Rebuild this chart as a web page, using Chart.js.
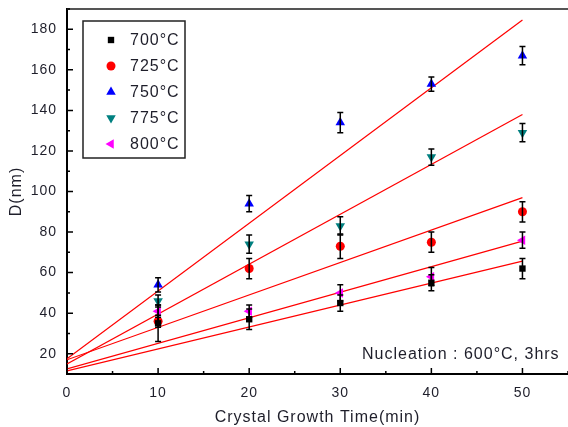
<!DOCTYPE html>
<html>
<head>
<meta charset="utf-8">
<script src="https://cdn.jsdelivr.net/npm/chart.js@4.4.0/dist/chart.umd.min.js"></script>
<style>
  body { margin: 0; background: #fff; }
  #wrap { width: 568px; height: 427px; position: relative; }
</style>
</head>
<body>
<div id="wrap"><canvas id="grafico"></canvas></div>
<script>
// dados
const tempos = [10, 20, 30, 40, 50];
const series = ["700°C", "725°C", "750°C", "775°C", "800°C"];

const d700 = [35, 37, 45, 55, 62];
const d725 = [36, 62, 73, 75, 90];
const d750 = [54, 94, 134, 153, 167];
const d775 = [46, 74, 83, 117, 129];
const d800 = [41, 41, 50, 58, 76];

const err700 = [9, 5, 4, 4, 5];
const err725 = [3, 5, 6, 5, 5];
const err750 = [3.5, 4, 5, 3.5, 4.5];
const err775 = [3, 4.5, 4.5, 4, 4.5];
const err800 = [3, 3, 4, 4.5, 4];

// retas de ajuste: valor em t=0 e t=50
const fitX = [0, 50];
const fitInicio = [11.5, 17, 17.5, 15, 12.5];
const fitFim = [65.7, 97, 184.6, 138, 75.5];

const xTicks = [0, 10, 20, 30, 40, 50];
const yTicks = [20, 40, 60, 80, 100, 120, 140, 160, 180];

const valores = [d700, d725, d750, d775, d800];
const erros = [err700, err725, err750, err775, err800];
const cores = ["#000000", "#ff0000", "#0000ff", "#008080", "#ff00ff"];
const estilos = ["rect", "circle", "triangle", "triangle", "triangle"];
const rotacoes = [0, 0, 0, 180, 270];
const raios = [4.5, 4.5, 5.5, 5.5, 5.5];

const FONTE = "'Liberation Sans', Arial, sans-serif";
const corTexto = "#1e1e2a";

const datasets = [];
series.forEach((nome, i) => {
    datasets.push({
        label: nome,
        data: tempos.map((t, j) => ({ x: t, y: valores[i][j] })),
        showLine: false,
        pointStyle: estilos[i],
        rotation: rotacoes[i],
        pointRadius: raios[i],
        pointBackgroundColor: cores[i],
        pointBorderColor: cores[i],
        pointBorderWidth: 0,
        order: 1
    });
});
series.forEach((nome, i) => {
    datasets.push({
        label: "fit " + nome,
        type: "line",
        data: fitX.map((t, j) => ({ x: t, y: j === 0 ? fitInicio[i] : fitFim[i] })),
        borderColor: "#ff0000",
        borderWidth: 1.2,
        pointRadius: 0,
        fill: false,
        order: 2
    });
});

const espacamento = {
    id: "espacamento",
    beforeDraw(chart) { chart.ctx.letterSpacing = "1px"; }
};

// barras de erro
const barrasErro = {
    id: "barrasErro",
    afterDatasetsDraw(chart) {
        const ctx = chart.ctx;
        const xs = chart.scales.x, ys = chart.scales.y;
        ctx.save();
        ctx.strokeStyle = "#000";
        ctx.lineWidth = 1.5;
        valores.forEach((serie, i) => {
            serie.forEach((v, j) => {
                const px = xs.getPixelForValue(tempos[j]);
                const top = ys.getPixelForValue(v + erros[i][j]);
                const bot = ys.getPixelForValue(v - erros[i][j]);
                ctx.beginPath();
                ctx.moveTo(px, top); ctx.lineTo(px, bot);
                ctx.moveTo(px - 3, top); ctx.lineTo(px + 3, top);
                ctx.moveTo(px - 3, bot); ctx.lineTo(px + 3, bot);
                ctx.stroke();
            });
        });
        ctx.restore();
    }
};

// ticks para dentro, moldura, legenda e anotacao
const moldura = {
    id: "moldura",
    afterDraw(chart) {
        const ctx = chart.ctx;
        const a = chart.chartArea;
        const xs = chart.scales.x, ys = chart.scales.y;
        ctx.save();
        ctx.strokeStyle = "#555";
        ctx.lineWidth = 2;
        ctx.beginPath();
        ctx.moveTo(a.left, a.top); ctx.lineTo(a.right, a.top);
        ctx.stroke();

        ctx.strokeStyle = "#000";
        ctx.lineWidth = 1.5;
        ctx.beginPath();
        xTicks.forEach(t => {
            const px = xs.getPixelForValue(t);
            ctx.moveTo(px, a.bottom); ctx.lineTo(px, a.bottom - 6);
            const m = xs.getPixelForValue(t + 5);
            ctx.moveTo(m, a.bottom); ctx.lineTo(m, a.bottom - 3);
        });
        yTicks.forEach(t => {
            const py = ys.getPixelForValue(t);
            ctx.moveTo(a.left, py); ctx.lineTo(a.left + 6, py);
            const m = ys.getPixelForValue(t + 10);
            ctx.moveTo(a.left, m); ctx.lineTo(a.left + 3, m);
        });
        ctx.stroke();

        // legenda
        ctx.fillStyle = "#fff";
        ctx.strokeStyle = "#222";
        ctx.lineWidth = 1.5;
        ctx.fillRect(83, 21, 102, 137);
        ctx.strokeRect(83, 21, 102, 137);
        ctx.font = "16px " + FONTE;
        ctx.textBaseline = "middle";
        series.forEach((nome, i) => {
            const y = 40 + i * 26;
            ctx.fillStyle = cores[i];
            ctx.strokeStyle = cores[i];
            Chart.helpers.drawPoint(ctx, {
                pointStyle: estilos[i], rotation: rotacoes[i],
                radius: raios[i], borderWidth: 0
            }, 111, y);
            ctx.fillStyle = corTexto;
            ctx.fillText(nome, 130, y + 1);
        });

        ctx.font = "16px " + FONTE;
        ctx.fillStyle = corTexto;
        ctx.textBaseline = "alphabetic";
        ctx.fillText("Nucleation : 600°C, 3hrs", 362, 359);
        ctx.restore();
    }
};

new Chart(document.getElementById("grafico"), {
    type: "scatter",
    data: { datasets: datasets },
    options: {
        responsive: true,
        maintainAspectRatio: false,
        animation: false,
        layout: { padding: 0, autoPadding: false },
        plugins: { legend: { display: false }, tooltip: { enabled: false } },
        scales: {
            x: {
                type: "linear",
                min: 0, max: 55,
                afterBuildTicks: s => { s.ticks = xTicks.map(v => ({ value: v })); },
                afterFit: s => { s.height = 53; s.paddingLeft = 0; s.paddingRight = 0; },
                grid: { display: false, drawTicks: false },
                border: { color: "#000", width: 2 },
                ticks: { padding: 11, color: corTexto, font: { size: 14, family: FONTE } },
                title: {
                    display: true, text: "Crystal Growth Time(min)",
                    color: corTexto, font: { size: 16, family: FONTE },
                    padding: { top: 4, bottom: 0 }
                }
            },
            y: {
                type: "linear",
                min: 10, max: 190,
                afterBuildTicks: s => { s.ticks = yTicks.map(v => ({ value: v })); },
                afterFit: s => { s.width = 67; s.paddingTop = 9; s.paddingBottom = 0; },
                grid: { display: false, drawTicks: false },
                border: { color: "#000", width: 2 },
                ticks: { padding: 10, color: corTexto, font: { size: 14, family: FONTE } },
                title: {
                    display: true, text: "D(nm)",
                    color: corTexto, font: { size: 16, family: FONTE },
                    padding: { top: 7, bottom: 0 }
                }
            }
        }
    },
    plugins: [espacamento, barrasErro, moldura]
});
</script>
</body>
</html>
